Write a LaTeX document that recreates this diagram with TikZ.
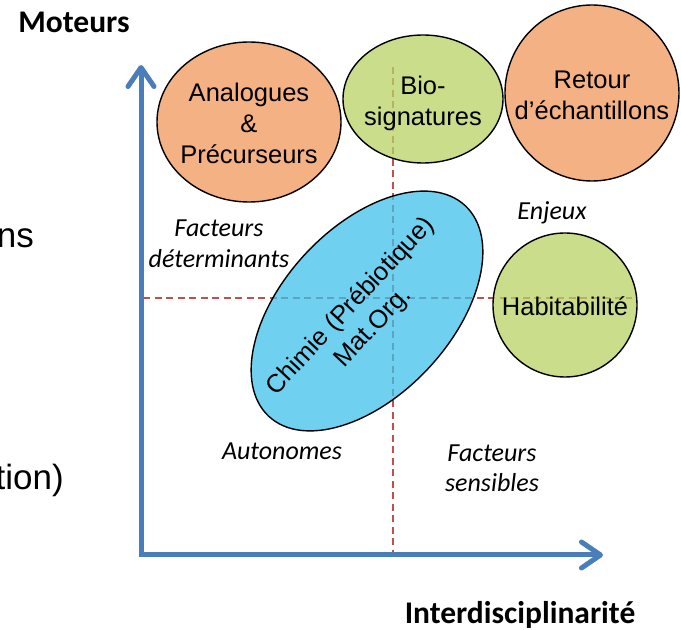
\documentclass[tikz,border=0pt]{standalone}
\usepackage{fontspec}
\setmainfont{Liberation Sans}
\newfontfamily\calf{Carlito}
\usetikzlibrary{shapes.geometric, arrows.meta}
\definecolor{axisblue}{HTML}{4A7EBB}
\definecolor{guidered}{HTML}{C0504D}
\definecolor{peach}{HTML}{F4B183}
\definecolor{limeb}{RGB}{184,210,99}
\definecolor{skyb}{RGB}{63,192,235}
\newcommand\bubfont{\fontsize{25.5}{31}\selectfont}
\newcommand\itlabfont{\calf\itshape\fontsize{26}{31}\selectfont}
\newcommand\boldlabfont{\calf\bfseries\fontsize{31.5}{38}\selectfont}
\tikzset{
  bubble/.style={ellipse, draw=black, line width=1.4pt, inner sep=0pt, outer sep=0pt},
  seethrough/.style={fill opacity=0.75},
  bubtext/.style={align=center, font=\bubfont, inner sep=0pt},
  guide/.style={draw=guidered, line width=1.5pt, dash pattern=on 7pt off 4.5pt},
  axisline/.style={draw=axisblue, line width=5pt, line join=miter,
    arrows={Straight Barb[length=19pt,width=26pt,round]-Straight Barb[length=19pt,width=26pt,round]}},
  itlab/.style={font=\itlabfont, anchor=base, inner sep=0pt},
  boldlab/.style={font=\boldlabfont, anchor=base, inner sep=0pt},
  cutlab/.style={font=\fontsize{35}{42}\selectfont, anchor=base east, inner sep=0pt},
}
\begin{document}
\begin{tikzpicture}[x=1pt,y=1pt]
\useasboundingbox (0,0) rectangle (681,630);

% guide lines
\coordinate (hL) at (143,332);
\coordinate (hR) at (632,332);
\coordinate (vT) at (393,563);
\coordinate (vB) at (393,77);
\draw[guide] (hL) -- (hR);
\draw[guide] (vT) -- (vB);

% bubbles
\node[bubble, fill=peach, minimum width=184pt, minimum height=160pt] (ana) at (249,508) {};
\node[bubtext] (anat) at ([yshift=-1pt]ana.center) {Analogues\\\&\\Précurseurs};

\node[bubble, seethrough, fill=limeb, minimum width=160pt, minimum height=128pt] (bio) at (423,531) {};
\node[bubtext] (biot) at ([yshift=-4pt]bio.center) {Bio-\\signatures};

\node[bubble, fill=peach, minimum width=174pt, minimum height=176pt] (ret) at (592,537) {};
\node[bubtext] (rett) at ([yshift=-2pt]ret.center) {Retour\\d’échantillons};

\node[bubble, seethrough, fill=limeb, minimum width=144pt, minimum height=144pt] (hab) at (565,325) {};
\node[bubtext] (habt) at ([yshift=-1pt]hab.center) {Habitabilité};

\node[bubble, seethrough, fill=skyb, rotate=47, minimum width=288pt, minimum height=168pt] (chi) at (367,319) {};
\node[bubtext, rotate=47] (chit) at (362,313) {Chimie (Prébiotique)\\Mat.Org.};

% axes
\coordinate (O) at (141,75);
\coordinate (Ytip) at (141,565);
\coordinate (Xtip) at (603,75);
\draw[axisline] (Ytip) -- (O) -- (Xtip);

% labels
\node[boldlab] (mot) at (74,597) {Moteurs};
\node[boldlab] (inter) at (520,6) {Interdisciplinarité};

\node[itlab] (fd1) at (219,393) {Facteurs};
\node[itlab] (fd2) at (219,362) {déterminants};
\node[itlab] (enj) at (552,410) {Enjeux};
\node[itlab] (aut) at (282,170) {Autonomes};
\node[itlab] (fs1) at (492,168) {Facteurs};
\node[itlab] (fs2) at (492,138) {sensibles};

\node[cutlab] (cut1) at (34,382) {ns};
\node[cutlab] (cut2) at (64,140) {tion)};
\end{tikzpicture}
\end{document}
